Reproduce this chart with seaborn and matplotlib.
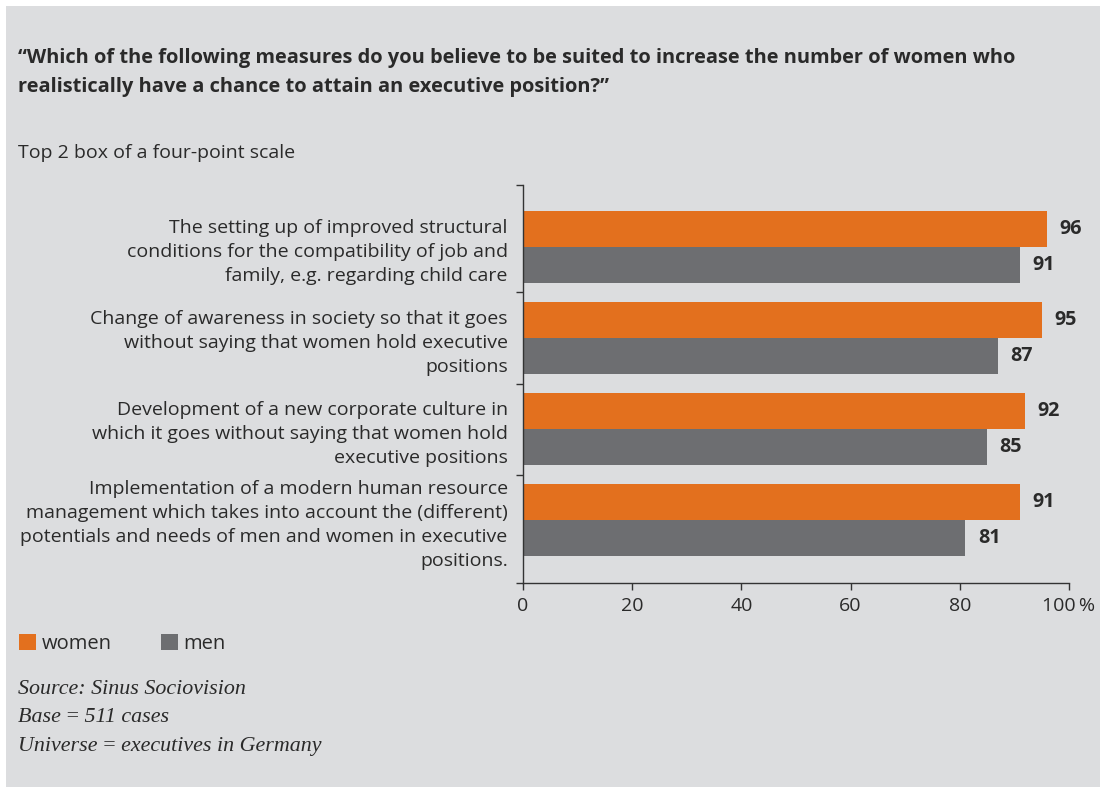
import matplotlib
matplotlib.use("Agg")
import matplotlib.pyplot as plt
import matplotlib.patches as mpatches
import seaborn as sns
import pandas as pd

# ---- data ----
measures = [
    "The setting up of improved structural\nconditions for the compatibility of job and\nfamily, e.g. regarding child care",
    "Change of awareness in society so that it goes\nwithout saying that women hold executive\npositions",
    "Development of a new corporate culture in\nwhich it goes without saying that women hold\nexecutive positions",
    "Implementation of a modern human resource\nmanagement which takes into account the (different)\npotentials and needs of men and women in executive\npositions.",
]
women = [96, 95, 92, 91]
men = [91, 87, 85, 81]
series = ["women", "men"]
xticks = [0, 20, 40, 60, 80, 100]
xticklabels = ["0", "20", "40", "60", "80", "100\u2009%"]

title_lines = [
    "\u201cWhich of the following measures do you believe to be suited to increase the number of women who",
    "realistically have a chance to attain an executive position?\u201d",
]
subtitle = "Top 2 box of a four-point scale"
notes = ["Source: Sinus Sociovision", "Base\u2009=\u2009511 cases", "Universe\u2009=\u2009executives in Germany"]

ORANGE = "#E3701E"
GREY = "#6D6E71"
BG = "#DCDDDF"
TXT = "#2A2A2A"

df = pd.DataFrame({
    "measure": measures * 2,
    "value": women + men,
    "sex": [series[0]] * len(women) + [series[1]] * len(men),
})

sns.set_theme(style="white")
plt.rcParams["font.family"] = ["Open Sans", "DejaVu Sans"]

W, H = 1105, 789
fig = plt.figure(figsize=(W / 100, H / 100), dpi=100)
fig.patch.set_facecolor("white")
fig.patches.append(mpatches.Rectangle((6 / W, 1 - 787 / H), (1100 - 6) / W, (787 - 6) / H,
                                      transform=fig.transFigure, facecolor=BG, edgecolor="none", zorder=-10))

ax = fig.add_axes([523 / W, 1 - 583 / H, (1069 - 523) / W, (583 - 185) / H])
ax.set_facecolor("none")

sns.barplot(data=df, y="measure", x="value", hue="sex", orient="h",
            palette=[ORANGE, GREY], width=0.79, ax=ax, legend=False, saturation=1,
            linewidth=0, edgecolor="none")

for c in ax.containers:
    ax.bar_label(c, fmt="%d", padding=9, fontsize=14.2, fontweight="bold", color=TXT)

ax.set_xlim(0, 100)
ax.set_ylim(3.69, -0.68)
ax.set_xlabel("")
ax.set_ylabel("")
ax.set_xticks(xticks)
ax.set_xticklabels(xticklabels, fontsize=14, color=TXT)
ax.set_yticks(range(len(measures)))
ax.set_yticklabels(measures, fontsize=14, color=TXT, linespacing=1.42)
ax.tick_params(axis="y", which="major", length=0, pad=11)
ax.set_yticks([-0.68, 0.5, 1.5, 2.5, 3.69], minor=True)
ax.tick_params(axis="y", which="minor", left=True, length=5, width=1, direction="out", color="#333333")
ax.tick_params(axis="x", which="major", bottom=True, length=5, width=1, direction="out", color="#333333", pad=5)

for s in ["top", "right"]:
    ax.spines[s].set_visible(False)
for s in ["left", "bottom"]:
    ax.spines[s].set_color("#333333")
    ax.spines[s].set_linewidth(1)

# titles
for i, t in enumerate(title_lines):
    fig.text(18 / W, 1 - (58 + 29 * i) / H, t, fontsize=14.4, fontweight="bold", color=TXT, va="center", ha="left")
fig.text(18 / W, 1 - 153 / H, subtitle, fontsize=14, color=TXT, va="center", ha="left")

# legend
handles = [mpatches.Patch(facecolor=ORANGE, edgecolor="none"), mpatches.Patch(facecolor=GREY, edgecolor="none")]
fig.legend(handles, series, loc="center left", bbox_to_anchor=(13 / W, 1 - 644 / H), ncol=2, frameon=False,
           fontsize=14.5, handlelength=0.85, handleheight=0.85, handletextpad=0.3, columnspacing=2.4,
           labelcolor=TXT, borderaxespad=0, borderpad=0.3)

for i, t in enumerate(notes):
    fig.text(18 / W, 1 - (689 + 28.5 * i) / H, t, fontsize=15.8, style="italic", family="Liberation Serif",
             color=TXT, va="center", ha="left")

fig.savefig("out.png", dpi=100, facecolor="white")
